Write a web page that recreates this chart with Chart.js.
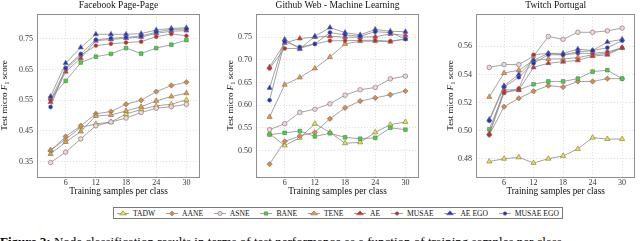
<!DOCTYPE html>
<html><head><meta charset="utf-8">
<script src="https://cdn.jsdelivr.net/npm/chart.js@4/dist/chart.umd.min.js"></script>
<style>
html,body{margin:0;padding:0;background:#fff;width:640px;height:241px;overflow:hidden;}
body{position:relative;}
.pan{position:absolute;top:0;height:200px;}
#legend{position:absolute;left:113px;top:207px;width:450px;height:12px;box-sizing:border-box;border:1px solid #7a7a7a;display:flex;justify-content:space-between;align-items:center;padding:0 3px 0 2px;font:7.6px "Liberation Serif",serif;color:#111;}
.item{display:flex;align-items:center;white-space:nowrap;}
.item canvas{margin-right:3px;}
#caption{position:absolute;left:0;top:234px;white-space:nowrap;font:13px "Liberation Serif",serif;color:#000;}
</style></head><body>
<div class="pan" style="left:0;width:205px"><canvas id="c1" width="205" height="200"></canvas></div>
<div class="pan" style="left:215px;width:210px"><canvas id="c2" width="210" height="200"></canvas></div>
<div class="pan" style="left:435px;width:205px"><canvas id="c3" width="205" height="200"></canvas></div>
<div id="legend"></div>
<div id="caption"><b>Figure 2:</b> Node classification results in terms of test performance as a function of training samples per class.</div>
<script>
// ---------- data ----------
const trainingSamples = [3, 6, 9, 12, 15, 18, 21, 24, 27, 30];
const seriesNames = ['TADW', 'AANE', 'ASNE', 'BANE', 'TENE', 'AE', 'MUSAE', 'AE EGO', 'MUSAE EGO'];
const panelTitles = ['Facebook Page-Page', 'Github Web - Machine Learning', 'Twitch Portugal'];
const xTickValues = [6, 12, 18, 24, 30];
const yTicksFacebook = [0.35, 0.45, 0.55, 0.65, 0.75];
const yTicksGithub = [0.50, 0.55, 0.60, 0.65, 0.70, 0.75];
const yTicksTwitch = [0.48, 0.50, 0.52, 0.54, 0.56];

// Facebook Page-Page
const fbTADW     = [0.388, 0.423, 0.462, 0.473, 0.479, 0.505, 0.520, 0.532, 0.537, 0.551];
const fbAANE     = [0.385, 0.432, 0.467, 0.506, 0.513, 0.537, 0.550, 0.578, 0.598, 0.609];
const fbASNE     = [0.347, 0.381, 0.424, 0.467, 0.479, 0.492, 0.510, 0.524, 0.529, 0.537];
const fbBANE     = [0.556, 0.613, 0.673, 0.692, 0.701, 0.720, 0.702, 0.720, 0.731, 0.746];
const fbTENE     = [0.375, 0.414, 0.448, 0.499, 0.502, 0.515, 0.529, 0.548, 0.562, 0.573];
const fbAE       = [0.544, 0.643, 0.687, 0.744, 0.748, 0.752, 0.756, 0.768, 0.775, 0.777];
const fbMUSAE    = [0.551, 0.650, 0.697, 0.728, 0.734, 0.738, 0.741, 0.757, 0.766, 0.760];
const fbAEEGO    = [0.562, 0.671, 0.722, 0.765, 0.765, 0.765, 0.767, 0.779, 0.784, 0.786];
const fbMUSAEEGO = [0.528, 0.655, 0.701, 0.747, 0.752, 0.755, 0.759, 0.772, 0.781, 0.782];

// Github Web - Machine Learning
const ghTADW     = [0.537, 0.511, 0.528, 0.559, 0.540, 0.516, 0.518, 0.540, 0.557, 0.563];
const ghAANE     = [0.470, 0.520, 0.532, 0.540, 0.570, 0.594, 0.609, 0.616, 0.623, 0.631];
const ghASNE     = [0.546, 0.559, 0.584, 0.591, 0.603, 0.622, 0.634, 0.639, 0.658, 0.664];
const ghBANE     = [0.535, 0.539, 0.543, 0.531, 0.538, 0.529, 0.526, 0.528, 0.550, 0.546];
const ghTENE     = [0.574, 0.645, 0.661, 0.681, 0.706, 0.735, 0.741, 0.741, 0.740, 0.746];
const ghAE       = [0.684, 0.737, 0.747, 0.750, 0.752, 0.750, 0.750, 0.751, 0.757, 0.754];
const ghMUSAE    = [0.681, 0.725, 0.725, 0.735, 0.742, 0.742, 0.743, 0.743, 0.741, 0.746];
const ghAEEGO    = [0.638, 0.745, 0.724, 0.752, 0.771, 0.760, 0.755, 0.767, 0.763, 0.762];
const ghMUSAEEGO = [0.611, 0.740, 0.728, 0.735, 0.760, 0.755, 0.752, 0.762, 0.760, 0.746];

// Twitch Portugal
const twTADW     = [0.478, 0.480, 0.481, 0.477, 0.480, 0.482, 0.487, 0.495, 0.494, 0.494];
const twAANE     = [0.497, 0.517, 0.523, 0.528, 0.532, 0.531, 0.535, 0.535, 0.537, 0.537];
const twASNE     = [0.545, 0.547, 0.547, 0.553, 0.567, 0.565, 0.570, 0.570, 0.571, 0.573];
const twBANE     = [0.501, 0.527, 0.529, 0.533, 0.535, 0.535, 0.537, 0.542, 0.543, 0.537];
const twTENE     = [0.524, 0.541, 0.543, 0.550, 0.551, 0.551, 0.552, 0.554, 0.555, 0.559];
const twAE       = [0.498, 0.529, 0.529, 0.545, 0.548, 0.549, 0.550, 0.553, 0.554, 0.559];
const twMUSAE    = [0.497, 0.527, 0.530, 0.554, 0.555, 0.554, 0.555, 0.555, 0.556, 0.559];
const twAEEGO    = [0.508, 0.532, 0.540, 0.550, 0.555, 0.555, 0.558, 0.557, 0.563, 0.565];
const twMUSAEEGO = [0.507, 0.531, 0.538, 0.548, 0.554, 0.554, 0.556, 0.557, 0.559, 0.564];

// ---------- styles ----------
const seriesFill   = ['#f4e61e', '#d98a48', '#f6d4d4', '#30e030', '#f39a2c', '#ea2222', '#e01c1c', '#2230e8', '#1e2ed8'];
const seriesShape  = ['triangle', 'rectRot', 'circle', 'rect', 'triangle', 'triangle', 'circle', 'triangle', 'circle'];
const seriesRadius = [3.0, 2.7, 2.3, 2.6, 3.0, 3.0, 1.9, 3.0, 2.0];
const lineColor = '#8c8c8c';
const markerEdge = '#6e6e6e';
const FONT = '"Liberation Serif", "DejaVu Serif", serif';

const frameAndLabels = {
  id: 'frameAndLabels',
  afterDraw(chart, args, opts) {
    const ctx = chart.ctx, a = chart.chartArea;
    ctx.save();
    ctx.strokeStyle = '#8f8f8f';
    ctx.lineWidth = 1;
    ctx.strokeRect(Math.round(a.left) + 0.5, Math.round(a.top) + 0.5, Math.round(a.right - a.left) - 1, Math.round(a.bottom - a.top));
    // title
    ctx.fillStyle = '#111';
    ctx.font = '9.5px ' + FONT;
    ctx.textAlign = 'center';
    ctx.textBaseline = 'middle';
    ctx.fillText(opts.title, (a.left + a.right) / 2, 5.5);
    // y title with italic F and subscript 1
    const parts = [
      { t: 'Test micro ', f: '9px ' + FONT, dy: 0 },
      { t: 'F', f: 'italic 9px ' + FONT, dy: 0 },
      { t: '1', f: '6.5px ' + FONT, dy: 1.8 },
      { t: ' score', f: '9px ' + FONT, dy: 0 }
    ];
    let total = 0;
    parts.forEach(p => { ctx.font = p.f; p.w = ctx.measureText(p.t).width; total += p.w; });
    ctx.translate(opts.yTitleX, (a.top + a.bottom) / 2);
    ctx.rotate(-Math.PI / 2);
    ctx.textAlign = 'left';
    ctx.textBaseline = 'middle';
    let x = -total / 2;
    parts.forEach(p => { ctx.font = p.f; ctx.fillText(p.t, x, p.dy); x += p.w; });
    ctx.restore();
  }
};

function makePanel(canvasId, title, seriesValues, yMin, yMax, yTicks, yWidth, padRight, yTitleX) {
  const datasets = seriesNames.map((name, i) => ({
    label: name,
    data: trainingSamples.map((x, k) => ({ x: x, y: seriesValues[i][k] })),
    borderColor: lineColor,
    borderWidth: 0.8,
    backgroundColor: seriesFill[i],
    pointBackgroundColor: seriesFill[i],
    pointBorderColor: markerEdge,
    pointBorderWidth: 0.6,
    pointStyle: seriesShape[i],
    pointRadius: seriesRadius[i],
    tension: 0,
    order: seriesNames.length - i
  }));
  return new Chart(document.getElementById(canvasId), {
    type: 'line',
    data: { datasets: datasets },
    options: {
      responsive: false,
      animation: false,
      events: [],
      layout: { padding: { top: 14, right: padRight, left: 0, bottom: 0 } },
      plugins: {
        legend: { display: false },
        tooltip: { enabled: false },
        frameAndLabels: { title: title, yTitleX: yTitleX }
      },
      scales: {
        x: {
          type: 'linear', min: 0.3, max: 32.7,
          afterBuildTicks: s => { s.ticks = xTickValues.map(v => ({ value: v })); },
          afterFit: s => { s.height = 23; },
          grid: { color: '#d4d4d4', lineWidth: 0.7, drawTicks: false },
          border: { display: false, dash: [1.2, 1.8] },
          ticks: { color: '#333', font: { family: FONT, size: 8 }, padding: 1, maxRotation: 0 },
          title: { display: true, text: 'Training samples per class', color: '#111', font: { family: FONT, size: 9.3 }, padding: { top: 0, bottom: 3 } }
        },
        y: {
          type: 'linear', min: yMin, max: yMax,
          afterBuildTicks: s => { s.ticks = yTicks.map(v => ({ value: v })); },
          afterFit: s => { s.width = yWidth; },
          grid: { color: '#d4d4d4', lineWidth: 0.7, drawTicks: false },
          border: { display: false, dash: [1.2, 1.8] },
          ticks: { color: '#333', font: { family: FONT, size: 8 }, padding: 4, callback: v => v.toFixed(2) }
        }
      }
    },
    plugins: [frameAndLabels]
  });
}

makePanel('c1', panelTitles[0],
  [fbTADW, fbAANE, fbASNE, fbBANE, fbTENE, fbAE, fbMUSAE, fbAEEGO, fbMUSAEEGO],
  0.30, 0.831, yTicksFacebook, 37, 5, 5);
makePanel('c2', panelTitles[1],
  [ghTADW, ghAANE, ghASNE, ghBANE, ghTENE, ghAE, ghMUSAE, ghAEEGO, ghMUSAEEGO],
  0.4416, 0.801, yTicksGithub, 41, 6, 16);
makePanel('c3', panelTitles[2],
  [twTADW, twAANE, twASNE, twBANE, twTENE, twAE, twMUSAE, twAEEGO, twMUSAEEGO],
  0.467, 0.583, yTicksTwitch, 41, 2, 16);

// ---------- legend ----------
function drawMarker(ctx, shape, r, x, y, fill) {
  ctx.beginPath();
  if (shape === 'circle') {
    ctx.arc(x, y, r, 0, Math.PI * 2);
  } else if (shape === 'rect') {
    const h = r * Math.SQRT1_2;
    ctx.rect(x - h, y - h, 2 * h, 2 * h);
  } else if (shape === 'rectRot') {
    ctx.moveTo(x, y - r); ctx.lineTo(x + r, y); ctx.lineTo(x, y + r); ctx.lineTo(x - r, y); ctx.closePath();
  } else {
    const s = r * 1.5;
    ctx.moveTo(x, y - r); ctx.lineTo(x + s * 0.866, y + r * 0.5); ctx.lineTo(x - s * 0.866, y + r * 0.5); ctx.closePath();
  }
  ctx.fillStyle = fill; ctx.fill();
  ctx.lineWidth = 0.6; ctx.strokeStyle = markerEdge; ctx.stroke();
}
const legend = document.getElementById('legend');
seriesNames.forEach((name, i) => {
  const item = document.createElement('div');
  item.className = 'item';
  const c = document.createElement('canvas');
  c.width = 14; c.height = 10;
  const ctx = c.getContext('2d');
  ctx.strokeStyle = lineColor; ctx.lineWidth = 0.8;
  ctx.beginPath(); ctx.moveTo(1, 5.5); ctx.lineTo(13, 5.5); ctx.stroke();
  drawMarker(ctx, seriesShape[i], seriesRadius[i] * 0.9, 7, 5.5, seriesFill[i]);
  item.appendChild(c);
  const t = document.createElement('span');
  t.textContent = name;
  item.appendChild(t);
  legend.appendChild(item);
});
</script>
</body></html>
